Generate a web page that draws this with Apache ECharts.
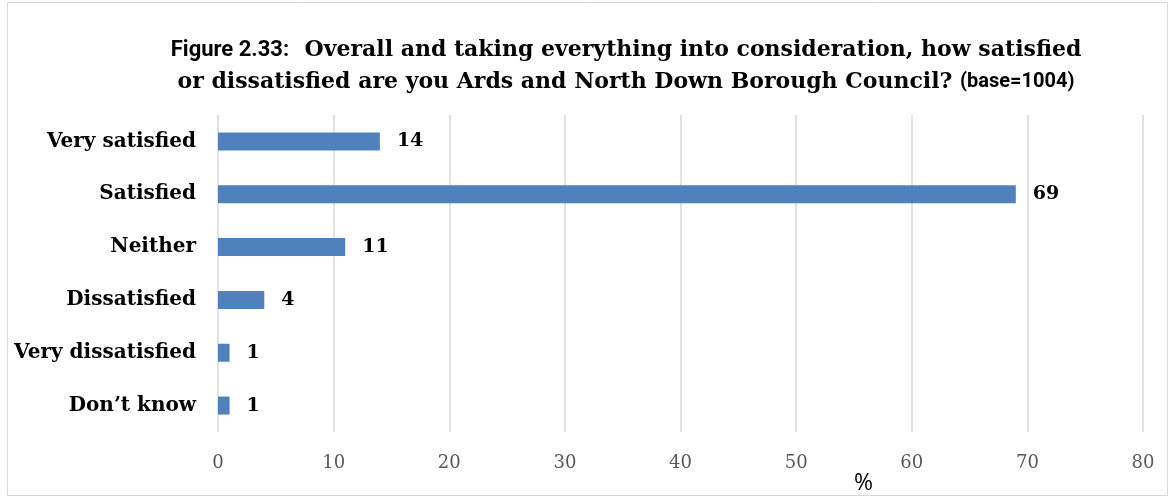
<!DOCTYPE html>
<html><head><meta charset="utf-8">
<script src="https://cdn.jsdelivr.net/npm/echarts@6/dist/echarts.min.js"></script>
<style>html,body{margin:0;padding:0;background:#fff}#c{width:1171px;height:498px}</style>
</head><body><div id="c"></div>
<script>
const categories = ["Very satisfied","Satisfied","Neither","Dissatisfied","Very dissatisfied","Don\u2019t know"];
const values = [14,69,11,4,1,1];
const xTicks = [0,10,20,30,40,50,60,70,80];

const chart = echarts.init(document.getElementById('c'));
chart.setOption({
  animation:false,
  backgroundColor:'#fff',
  graphic:[{type:'rect',shape:{x:7.5,y:2.5,width:1160,height:493},style:{fill:'none',stroke:'#d9d9d9',lineWidth:1}}],
  title:{
    left:621, top:29, textAlign:'center',
    text:'{f|Figure 2.33:}{s|  Overall and taking everything into consideration, how satisfied}\n{s|or dissatisfied are you Ards and North Down Borough Council? }{b|(base=1004)}',
    textStyle:{rich:{
      f:{fontFamily:'Roboto, sans-serif',fontWeight:'bold',fontSize:22,color:'#000',lineHeight:32},
      s:{fontFamily:'DejaVu Serif, serif',fontWeight:'bold',fontSize:22,color:'#000',lineHeight:32},
      b:{fontFamily:'Roboto, sans-serif',fontWeight:'bold',fontSize:20,color:'#000',lineHeight:32}
    }}
  },
  grid:{left:218,right:28,top:115,bottom:66,containLabel:false,outerBoundsMode:'none'},
  xAxis:{type:'value',min:0,max:80,interval:10,
    name:'%',nameLocation:'middle',nameGap:40,nameMoveOverlap:false,
    nameTextStyle:{fontFamily:'Open Sans, sans-serif',fontSize:23,color:'#000',padding:[0,0,0,366]},
    axisLine:{show:false},axisTick:{show:false},
    axisLabel:{fontFamily:'DejaVu Serif, serif',fontSize:18,color:'#595959',margin:22,
      formatter:v=>xTicks.includes(v)?String(v):''},
    splitLine:{show:true,lineStyle:{color:'#d9d9d9',width:1.5}}
  },
  yAxis:{type:'category',data:categories,inverse:true,
    axisLine:{show:false},axisTick:{show:false},
    axisLabel:{fontFamily:'DejaVu Serif, serif',fontWeight:'bold',fontSize:20,color:'#000',margin:22}
  },
  series:[{type:'bar',data:values,barWidth:18,
    itemStyle:{color:'#4f81bd'},
    label:{show:true,position:'right',distance:17,fontFamily:'DejaVu Serif, serif',fontWeight:'bold',fontSize:19,color:'#000'}
  }]
});
</script></body></html>
